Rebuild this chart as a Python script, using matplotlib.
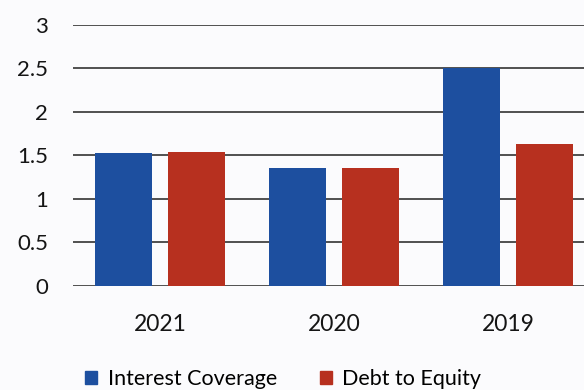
import numpy as np
import matplotlib.pyplot as plt
from matplotlib.patches import Patch

# Data
years = ['2021', '2020', '2019']
interest_coverage = [1.53, 1.35, 2.5]
debt_to_equity = [1.54, 1.35, 1.63]
y_ticks = [0, 0.5, 1, 1.5, 2, 2.5, 3]

blue = '#1d4f9f'
red = '#b7301f'

plt.rcParams['font.family'] = ['Lato', 'DejaVu Sans']

fig = plt.figure(figsize=(5.84, 3.9), dpi=100)
fig.patch.set_facecolor('#fbfbfd')

# axes run a bit past the right edge, like the cropped scan
ax = fig.add_axes([0.125, 0.267, 0.894, 0.669])
ax.set_facecolor('#fbfbfd')

x = np.arange(len(years))
w = 0.33
ax.bar(x - 0.21, interest_coverage, w, color=blue, zorder=3)
ax.bar(x + 0.21, debt_to_equity, w, color=red, zorder=3)

ax.set_xlim(-0.5, 2.5)
ax.set_ylim(0, 3)
ax.set_yticks(y_ticks)
ax.set_yticklabels(['0', '0.5', '1', '1.5', '2', '2.5', '3'])
ax.set_xticks(x)
ax.set_xticklabels(years)
ax.yaxis.grid(True, color='#333333', linewidth=1.2, zorder=0)
ax.set_axisbelow(True)
for s in ax.spines.values():
    s.set_visible(False)
ax.tick_params(axis='y', length=0, pad=18, labelsize=16, labelcolor='#151515')
ax.tick_params(axis='x', length=0, pad=20, labelsize=16.5, labelcolor='#151515')

handles = [Patch(color=blue, label='Interest Coverage'),
           Patch(color=red, label='Debt to Equity')]
fig.legend(handles=handles, loc='center', bbox_to_anchor=(0.485, 0.029),
           ncol=2, frameon=False, fontsize=15.5, handlelength=0.55,
           handleheight=0.55, handletextpad=0.5, columnspacing=2.0)

fig.savefig('out.png', dpi=100, facecolor=fig.get_facecolor())
